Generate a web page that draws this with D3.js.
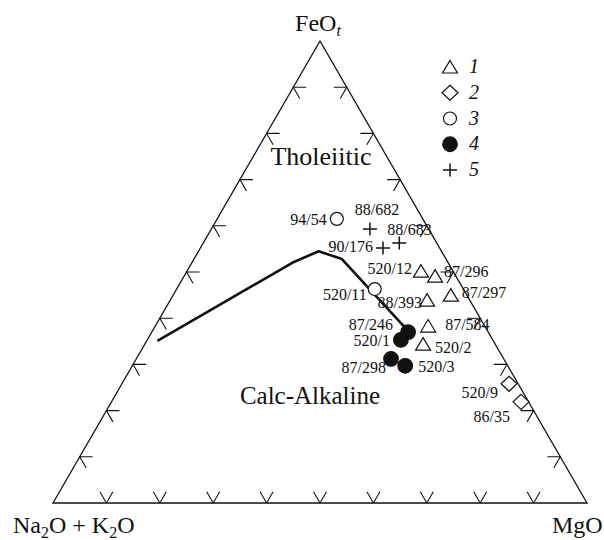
<!DOCTYPE html>
<html>
<head>
<meta charset="utf-8">
<script src="https://cdn.jsdelivr.net/npm/d3@7"></script>
<style>
  body { margin: 0; background: #fff; }
  text { font-family: "Liberation Serif", "Times New Roman", serif; fill: #111; }
</style>
</head>
<body>
<svg id="afm" width="604" height="540"></svg>
<script>
//
// Data (values in wt.%, A = Na2O+K2O, F = FeOt, M = MgO)
//
const sampleIds = ["94/54", "520/11",
  "88/682", "88/683", "90/176",
  "520/12", "87/296", "88/393", "87/297", "87/584", "520/2",
  "87/246", "520/1", "87/298", "520/3",
  "520/9", "86/35"];
const sampleGroup = [3, 3, 5, 5, 5, 1, 1, 1, 1, 1, 1, 4, 4, 4, 4, 2, 2];
const feo = [61.5, 46.3, 59.3, 56.3, 55.2, 50.2, 49.1, 43.9, 45.0, 38.3, 34.4, 37.0, 35.3, 31.2, 29.7, 25.8, 21.9];
const mgo = [22.4, 37.1, 29.7, 36.7, 34.2, 43.8, 47.0, 48.1, 52.0, 51.1, 52.1, 48.0, 47.5, 47.7, 51.1, 72.5, 76.7];
const alk = sampleIds.map((d, i) => 100 - feo[i] - mgo[i]);

// Irvine & Baragar boundary, tholeiitic / calc-alkaline
const boundaryFeo = [35.1, 52.0, 54.5, 52.8, 37.7];
const boundaryMgo = [2.0, 18.8, 22.5, 27.7, 47.3];

const legendKeys = [1, 2, 3, 4, 5];
const tickValues = [10, 20, 30, 40, 50, 60, 70, 80, 90];

// where each sample label sits relative to its symbol
const labelPlace = {
  "94/54": ["end", -10, 6], "520/11": ["end", -8, 11],
  "88/682": ["middle", 7, -14], "88/683": ["start", -12, -8], "90/176": ["end", -10, 4],
  "520/12": ["end", -9, 3], "87/296": ["start", 9, 1], "88/393": ["end", -5, 8],
  "87/297": ["start", 11, 3], "87/584": ["start", 17, 4], "520/2": ["start", 12, 9],
  "87/246": ["end", -15, -2], "520/1": ["end", -11, 6], "87/298": ["end", -5, 14],
  "520/3": ["start", 13, 6], "520/9": ["end", -11, 14], "86/35": ["end", -11, 20]
};

//
// Setup
//
const svg = d3.select("#afm");
const xs = d3.scaleLinear().domain([0, 100]).range([53, 587]);
const ys = d3.scaleLinear().domain([0, 100]).range([503, 41]);

function pos(f, m) {
  return [xs(m + f / 2), ys(f)];
}

const tickLen = 13;
const c60 = Math.cos(Math.PI / 3), s60 = Math.sin(Math.PI / 3);

// frame
const corners = [pos(0, 0), pos(0, 100), pos(100, 0)];
svg.append("path")
  .attr("d", "M" + corners.join("L") + "Z")
  .attr("fill", "none").attr("stroke", "#111").attr("stroke-width", 1.3);

// ticks
const ticks = svg.append("g").attr("fill", "none").attr("stroke", "#111").attr("stroke-width", 1.1);
tickValues.forEach(function(v) {
  // bottom edge
  var b = pos(0, v);
  ticks.append("path").attr("d", "M" + [b[0] - tickLen * c60, b[1] - tickLen * s60] +
    "L" + b + "L" + [b[0] + tickLen * c60, b[1] - tickLen * s60]);
  // left edge
  var l = pos(v, 0);
  ticks.append("path").attr("d", "M" + [l[0] + tickLen, l[1]] +
    "L" + l + "L" + [l[0] + tickLen * c60, l[1] + tickLen * s60]);
  // right edge
  var r = pos(v, 100 - v);
  ticks.append("path").attr("d", "M" + [r[0] - tickLen, r[1]] +
    "L" + r + "L" + [r[0] - tickLen * c60, r[1] + tickLen * s60]);
});

// boundary
const line = d3.line();
svg.append("path")
  .attr("d", line(boundaryFeo.map((f, i) => pos(f, boundaryMgo[i]))))
  .attr("fill", "none").attr("stroke", "#111").attr("stroke-width", 2.6)
  .attr("stroke-linejoin", "round");

// symbols
function symbolPath(g) {
  if (g === 1) return "M0,-6.5L7.5,6L-7.5,6Z";
  if (g === 2) return "M0,-7.5L8,0L0,7.5L-8,0Z";
  if (g === 5) return "M-7,0H7M0,-6.5V6.5";
  return null;
}
function drawSymbol(sel, g) {
  if (g === 3 || g === 4) {
    sel.append("circle").attr("r", g === 3 ? 6.5 : 7.3)
      .attr("fill", g === 4 ? "#111" : "#fff")
      .attr("stroke", "#111").attr("stroke-width", 1.2);
  } else {
    sel.append("path").attr("d", symbolPath(g))
      .attr("fill", g === 5 ? "none" : "#fff")
      .attr("stroke", "#111").attr("stroke-width", g === 5 ? 1.5 : 1.2);
  }
}

const pts = svg.append("g");
sampleIds.forEach(function(id, i) {
  var p = pos(feo[i], mgo[i]);
  var g = pts.append("g").attr("transform", "translate(" + p + ")");
  drawSymbol(g, sampleGroup[i]);
});

// sample labels
sampleIds.forEach(function(id, i) {
  var p = pos(feo[i], mgo[i]);
  var lp = labelPlace[id];
  svg.append("text")
    .attr("x", p[0] + lp[1]).attr("y", p[1] + lp[2])
    .attr("text-anchor", lp[0])
    .attr("font-size", 16)
    .text(id);
});

// field names
svg.append("text").attr("x", 321).attr("y", 165).attr("text-anchor", "middle")
  .attr("font-size", 26).text("Tholeiitic");
svg.append("text").attr("x", 310).attr("y", 404).attr("text-anchor", "middle")
  .attr("font-size", 25).text("Calc-Alkaline");

// vertex labels
var apexLabel = svg.append("text").attr("x", 318).attr("y", 31).attr("text-anchor", "middle").attr("font-size", 24);
apexLabel.append("tspan").text("FeO");
apexLabel.append("tspan").attr("font-size", 16).attr("font-style", "italic").attr("dy", 5).text("t");

var alkLabel = svg.append("text").attr("x", 13).attr("y", 533).attr("font-size", 24);
alkLabel.append("tspan").text("Na");
alkLabel.append("tspan").attr("font-size", 16).attr("dy", 5).text("2");
alkLabel.append("tspan").attr("dy", -5).text("O + K");
alkLabel.append("tspan").attr("font-size", 16).attr("dy", 5).text("2");
alkLabel.append("tspan").attr("dy", -5).text("O");

svg.append("text").attr("x", 552).attr("y", 533).attr("font-size", 24).text("MgO");

// legend
const ly = d3.scalePoint().domain(legendKeys).range([67, 170]);
legendKeys.forEach(function(k) {
  var g = svg.append("g").attr("transform", "translate(450," + ly(k) + ")");
  drawSymbol(g, k);
  svg.append("text").attr("x", 469).attr("y", ly(k) + 6)
    .attr("font-size", 20).attr("font-style", "italic").text(k);
});
</script>
</body>
</html>
